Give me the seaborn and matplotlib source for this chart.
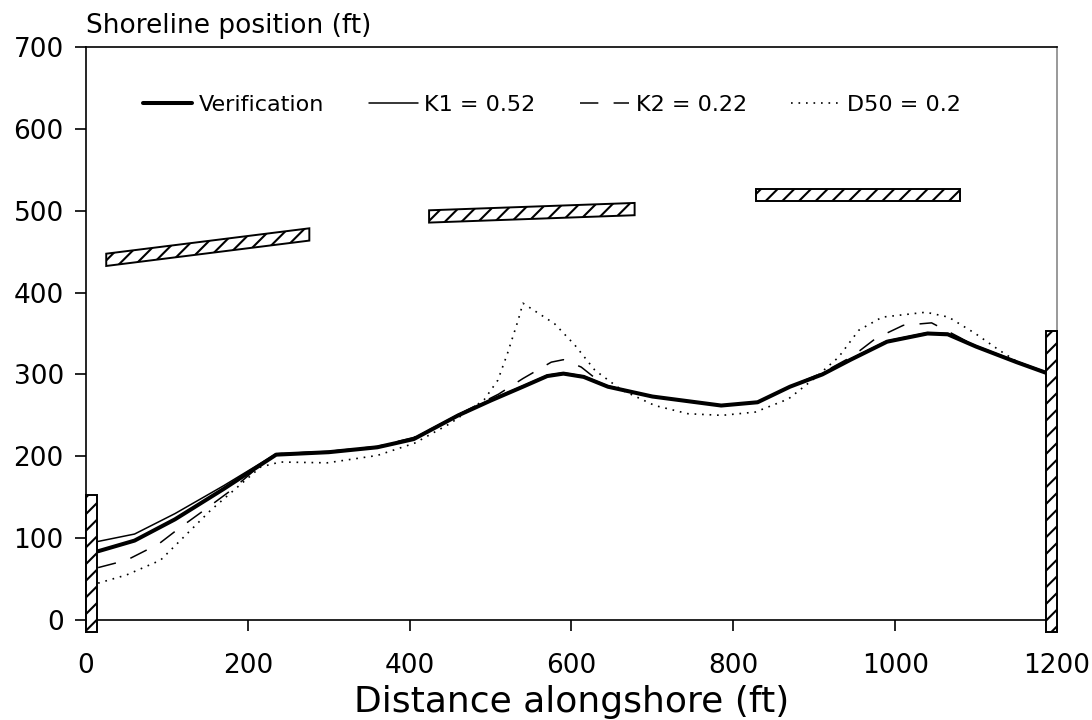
import matplotlib
matplotlib.use("Agg")
import matplotlib.pyplot as plt
from matplotlib.patches import Polygon
import seaborn as sns

# shoreline series (ft)
verif_x = [15, 60, 110, 170, 235, 300, 360, 405, 460, 500, 540, 570, 590, 615, 645, 700,
           785, 830, 870, 910, 945, 990, 1040, 1065, 1100, 1150, 1192]
verif_y = [84, 97, 123, 160, 202, 205, 211, 221, 250, 268, 285, 298, 301, 297, 285, 273,
           262, 266, 285, 300, 318, 340, 350, 349, 334, 315, 300]

k1_x = [15, 60, 110, 170, 235, 300, 360, 405, 460, 500, 540, 570, 590, 615, 645, 700,
        785, 830, 870, 910, 945, 990, 1040, 1065, 1100, 1150, 1192]
k1_y = [96, 105, 130, 164, 203, 206, 211, 222, 251, 269, 286, 299, 302, 298, 286, 273,
        262, 266, 285, 301, 319, 341, 351, 350, 335, 316, 301]

k2_x = [15, 50, 90, 115, 150, 180, 220, 235, 300, 360, 405, 440, 470, 510, 540, 575, 590,
        612, 640, 700, 785, 830, 870, 910, 947, 976, 1010, 1045, 1080, 1100, 1150, 1192]
k2_y = [64, 73, 93, 112, 137, 159, 193, 203, 206, 212, 223, 240, 256, 276, 295, 315, 318,
        309, 287, 273, 262, 266, 285, 302, 322, 344, 360, 363, 345, 334, 315, 300]

d50_x = [15, 50, 92, 154, 216, 240, 298, 360, 406, 450, 492, 509, 521, 534, 540, 554, 579,
         604, 629, 662, 703, 744, 786, 827, 868, 900, 930, 955, 984, 1038, 1066, 1099,
         1128, 1150, 1192]
d50_y = [45, 55, 73, 134, 187, 193, 192, 201, 216, 240, 269, 293, 326, 366, 387, 378, 362,
         336, 305, 281, 262, 252, 250, 254, 270, 295, 321, 354, 370, 376, 370, 350,
         330, 316, 300]

# structures: breakwaters (x start, x end, y at start, y at end) and groins
bw_x0 = [25, 424, 828]
bw_x1 = [276, 678, 1080]
bw_y0 = [440, 493, 519]
bw_y1 = [471, 502, 519]
bw_width = 15

groin_x = [0, 1187]
groin_w = 13
groin_top = [153, 353]
groin_bottom = -15

sns.set_style("ticks")
plt.rcParams["font.family"] = ["DejaVu Sans"]
plt.rcParams["text.color"] = "black"
plt.rcParams["axes.labelcolor"] = "black"
plt.rcParams["hatch.linewidth"] = 1.5

fig = plt.figure(figsize=(10.92, 7.2), dpi=100)
ax = fig.add_axes([86 / 1092, 100 / 720, 971 / 1092, 573 / 720])

sns.lineplot(x=verif_x, y=verif_y, color="black", lw=2.9, sort=False,
             label="Verification", ax=ax)
sns.lineplot(x=k1_x, y=k1_y, color="black", lw=1.1, sort=False,
             label="K1 = 0.52", ax=ax)
sns.lineplot(x=k2_x, y=k2_y, color="black", lw=1.1, sort=False,
             linestyle=(0, (12, 10)), label="K2 = 0.22", ax=ax)
sns.lineplot(x=d50_x, y=d50_y, color="black", lw=1.2, sort=False,
             linestyle=(0, (1, 3.5)), label="D50 = 0.2", ax=ax)

# hatched breakwaters
for x0, x1, y0, y1 in zip(bw_x0, bw_x1, bw_y0, bw_y1):
    h = bw_width / 2
    poly = Polygon([(x0, y0 - h), (x1, y1 - h), (x1, y1 + h), (x0, y0 + h)],
                   closed=True, facecolor="white", edgecolor="black", lw=1.4,
                   hatch="//", zorder=3)
    ax.add_patch(poly)

# hatched groins at both ends
for gx, gt in zip(groin_x, groin_top):
    poly = Polygon([(gx, groin_bottom), (gx + groin_w, groin_bottom),
                    (gx + groin_w, gt), (gx, gt)],
                   closed=True, facecolor="white", edgecolor="black", lw=1.4,
                   hatch="//", zorder=3, clip_on=False)
    ax.add_patch(poly)

ax.set_xlim(0, 1200)
ax.set_ylim(0, 700)
ax.set_xticks(range(0, 1201, 200))
ax.set_yticks(range(0, 701, 100))

for side in ["left", "bottom", "top"]:
    ax.spines[side].set_color("black")
    ax.spines[side].set_linewidth(1.2)
ax.spines["right"].set_color("#888888")
ax.spines["right"].set_linewidth(1.2)

ax.tick_params(axis="both", direction="out", length=8, width=1.2,
               labelsize=19, colors="black")
ax.tick_params(axis="x", pad=16)
ax.tick_params(axis="y", pad=8)

ax.set_xlabel("Distance alongshore (ft)", fontsize=26, labelpad=4)
ax.set_ylabel("")
ax.set_title("Shoreline position (ft)", loc="left", fontsize=19, pad=10)

ax.legend(ncol=4, loc="center", bbox_to_anchor=(0.48, 0.899), frameon=False,
          fontsize=16, handlelength=2.2, handletextpad=0.3, columnspacing=2.0)

fig.savefig("out.png", dpi=100)
